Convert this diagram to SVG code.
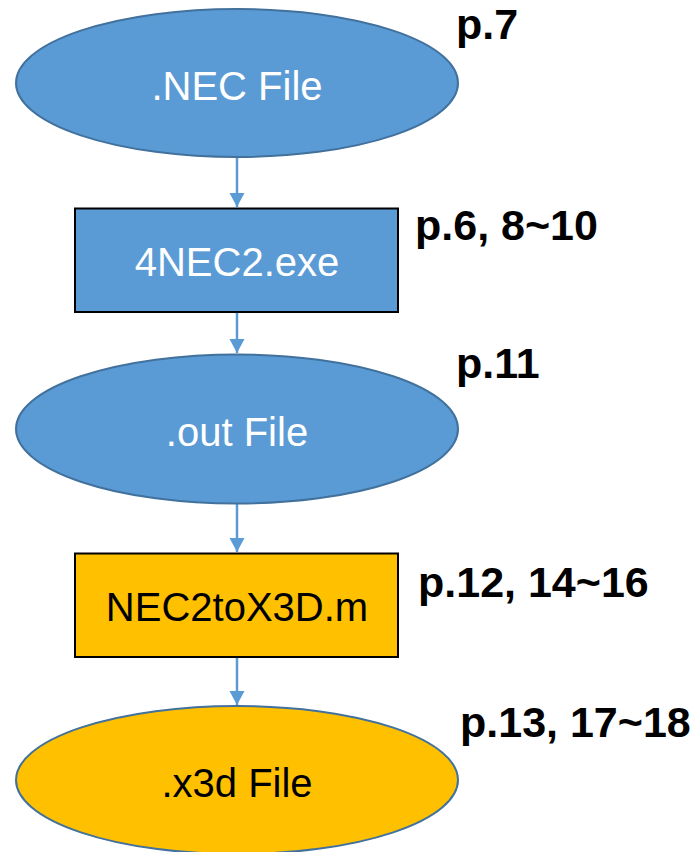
<svg xmlns="http://www.w3.org/2000/svg" width="695" height="852" viewBox="0 0 695 852">
<style>
.blue{fill:#5B9BD5}
.orange{fill:#FFC000}
.ell{stroke:#41719C;stroke-width:2}
.box{stroke:#000;stroke-width:2}
.t{font-family:"Liberation Sans",Arial,sans-serif;font-size:40px;text-anchor:middle}
.w{fill:#fff}
.k{fill:#000}
.lbl{font-family:"Liberation Sans",Arial,sans-serif;font-size:43px;font-weight:bold;fill:#000}
.conn{stroke:#5B9BD5;stroke-width:2.5;fill:none}
</style>
<defs>
<marker id="ah" markerUnits="userSpaceOnUse" markerWidth="16" markerHeight="16" viewBox="0 0 16 16" refX="14" refY="8" orient="auto">
<path d="M0,0.5 L14,8 L0,15.5 Z" fill="#5B9BD5"/>
</marker>
</defs>
<rect width="695" height="852" fill="#fff"/>
<g id="connectors">
<line class="conn" x1="237" y1="157" x2="237" y2="207" marker-end="url(#ah)"/>
<line class="conn" x1="237" y1="313" x2="237" y2="353" marker-end="url(#ah)"/>
<line class="conn" x1="237" y1="504" x2="237" y2="552" marker-end="url(#ah)"/>
<line class="conn" x1="237" y1="658" x2="237" y2="705" marker-end="url(#ah)"/>
</g>
<g id="nec-file">
<ellipse class="blue ell" cx="237" cy="83" rx="221" ry="74"/>
<text class="t w" x="237" y="100">.NEC File</text>
</g>
<g id="nec2-exe">
<rect class="blue box" x="75" y="208.5" width="323" height="103.5"/>
<text class="t w" x="237" y="276">4NEC2.exe</text>
</g>
<g id="out-file">
<ellipse class="blue ell" cx="237" cy="429" rx="221" ry="74.5"/>
<text class="t w" x="237" y="446">.out File</text>
</g>
<g id="nec2tox3d">
<rect class="orange box" x="75" y="553.5" width="323" height="103.5"/>
<text class="t k" x="237" y="621">NEC2toX3D.m</text>
</g>
<g id="x3d-file">
<ellipse class="orange ell" cx="237" cy="780" rx="221" ry="74"/>
<text class="t k" x="237" y="797">.x3d File</text>
</g>
<g id="labels">
<text class="lbl" x="456" y="39">p.7</text>
<text class="lbl" x="415" y="240">p.6, 8~10</text>
<text class="lbl" x="456" y="378">p.11</text>
<text class="lbl" x="418" y="597">p.12, 14~16</text>
<text class="lbl" x="460" y="737">p.13, 17~18</text>
</g>
</svg>
